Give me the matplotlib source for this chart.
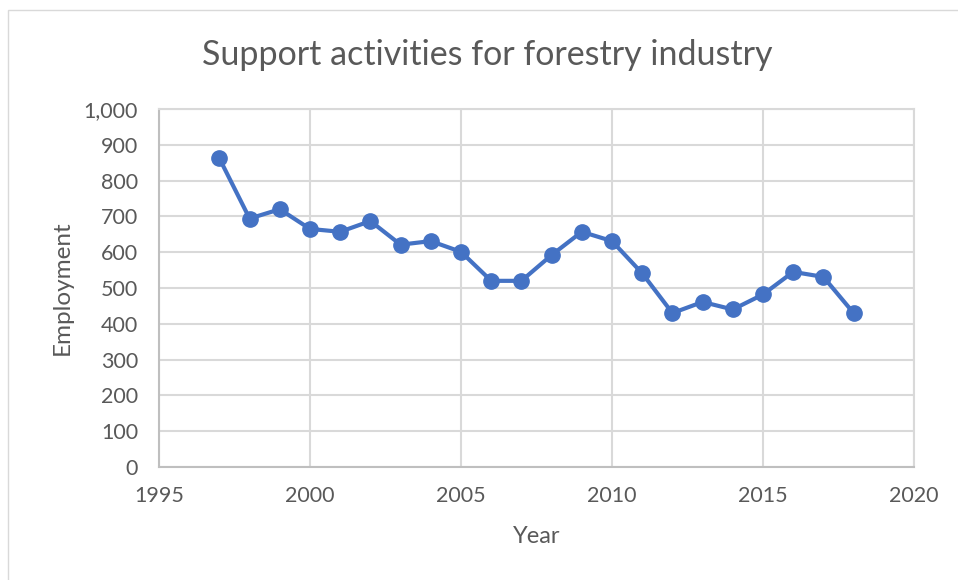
import matplotlib.pyplot as plt
from matplotlib.patches import Rectangle
from matplotlib.ticker import FuncFormatter

years = list(range(1997, 2019))
employment = [862, 694, 720, 665, 657, 687, 621, 631, 601, 520, 520,
              592, 657, 631, 541, 430, 461, 440, 482, 545, 531, 430]

plt.rcParams['font.family'] = ['Lato', 'DejaVu Sans']
text_color = '#595959'
grid_color = '#d9d9d9'

fig = plt.figure(figsize=(9.58, 5.8), dpi=100)
ax = fig.add_axes([159 / 958, 1 - 467 / 580, (914 - 159) / 958, (467 - 109) / 580])

# light chart-area frame
fig.patches.append(Rectangle((8 / 958, -0.1), 1.1, 1 - 10 / 580 + 0.1,
                             transform=fig.transFigure, fill=False,
                             edgecolor='#d9d9d9', linewidth=1))

ax.plot(years, employment, color='#4472C4', linewidth=3,
        marker='o', markersize=11, zorder=3)

ax.set_xlim(1995, 2020)
ax.set_ylim(0, 1000)
ax.set_xticks(range(1995, 2021, 5))
ax.set_yticks(range(0, 1001, 100))
ax.yaxis.set_major_formatter(FuncFormatter(lambda v, p: f'{int(v):,}'))
ax.grid(True, color=grid_color, linewidth=1.5)
ax.set_axisbelow(True)
for side in ax.spines:
    ax.spines[side].set_color(grid_color)
    ax.spines[side].set_linewidth(1.5)
ax.spines['left'].set_color('#bfbfbf')
ax.spines['bottom'].set_color('#bfbfbf')
ax.tick_params(length=0, labelsize=15.5, colors=text_color)
ax.tick_params(axis='y', pad=15)
ax.tick_params(axis='x', pad=14)

ax.set_xlabel('Year', fontsize=17, color=text_color, labelpad=14)
ax.set_ylabel('Employment', fontsize=17.5, color=text_color, labelpad=8)
fig.text(0.509, 1 - 55 / 580, 'Support activities for forestry industry',
         ha='center', va='center', fontsize=24.5, color=text_color)

fig.savefig('out.png', dpi=100)
